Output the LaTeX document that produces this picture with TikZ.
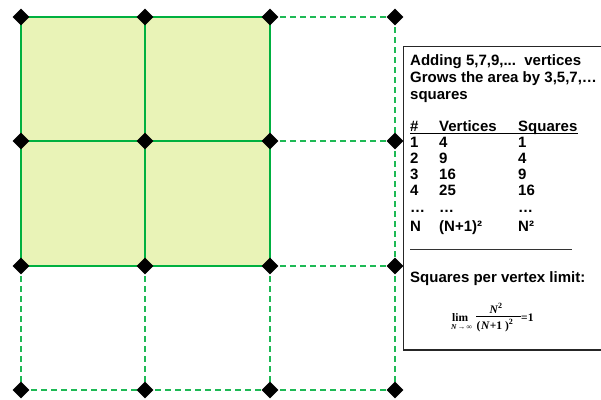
\documentclass[tikz,border=0pt]{standalone}
\usepackage{fontspec}
\setmainfont{Liberation Sans}
\newfontfamily\lser{Liberation Serif}
\usetikzlibrary{shapes.geometric}
\definecolor{gsolid}{RGB}{0,176,64}
\definecolor{gfill}{RGB}{233,243,183}
\definecolor{gdash}{RGB}{30,185,85}
\newcommand{\supii}{\raisebox{4.6pt}{\fontsize{8}{9}\selectfont 2}}
\tikzset{
  vtx/.style={diamond,fill=black,inner sep=0pt,minimum width=17pt,minimum height=17pt},
  solidedge/.style={draw=gsolid,line width=2.9pt},
  dashedge/.style={draw=gdash,line width=1.4pt,dash pattern=on 6pt off 4pt},
  txt/.style={anchor=base west,inner sep=0pt,font=\bfseries\fontsize{15}{17}\selectfont},
  ftxt/.style={anchor=base west,inner sep=0pt,font=\lser\bfseries\fontsize{11.5}{12}\selectfont},
  fsub/.style={anchor=base west,inner sep=0pt,font=\lser\bfseries\fontsize{7.5}{8}\selectfont},
}
\begin{document}
\begin{tikzpicture}[x=1pt,y=-1pt]
\useasboundingbox (0,0) rectangle (601,399);
% vertex positions
\foreach \i/\x in {0/21,1/145,2/270,3/395}
  \foreach \j/\y in {0/17,1/141,2/266,3/390}
    \coordinate (c\i\j) at (\x,\y);
% filled area
\fill[gfill] (c00) rectangle (c22);
% dashed grid
\foreach \a/\b in {20/30,21/31,22/32,23/33,03/13,13/23,02/03,12/13,22/23,30/31,31/32,32/33}
  \draw[dashedge] (c\a) -- (c\b);
% solid grid
\foreach \a/\b in {00/10,10/20,01/11,11/21,02/12,12/22,00/01,01/02,10/11,11/12,20/21,21/22}
  \draw[solidedge] (c\a) -- (c\b);
% vertices
\foreach \i in {0,1,2,3}
  \foreach \j in {0,1,2,3}
    \node[vtx] (v\i\j) at (c\i\j) {};
% info box
\draw[draw=black!85,line width=1.1pt] (403.5,46.5) rectangle (640,350);
\node[txt] (t1) at (410,65) {Adding 5,7,9,...\ \ vertices};
\node[txt] (t2) at (410,82) {Grows the area by 3,5,7,…};
\node[txt] (t3) at (410,99) {squares};
% table
\node[txt] (h1) at (410,131) {\#};
\node[txt] (h2) at (439,131) {Vertices};
\node[txt] (h3) at (518,131) {Squares};
\draw[line width=1.2pt] ([yshift=-2.2pt]h1.base west) -- ([yshift=-2.2pt]h3.base east);
\node[txt] (r1a) at (410,147) {1};
\node[txt] (r1b) at (439,147) {4};
\node[txt] (r1c) at (518,147) {1};
\node[txt] (r2a) at (410,163) {2};
\node[txt] (r2b) at (439,163) {9};
\node[txt] (r2c) at (518,163) {4};
\node[txt] (r3a) at (410,179) {3};
\node[txt] (r3b) at (439,179) {16};
\node[txt] (r3c) at (518,179) {9};
\node[txt] (r4a) at (410,195) {4};
\node[txt] (r4b) at (439,195) {25};
\node[txt] (r4c) at (518,195) {16};
\node[txt] (r5a) at (410,212) {…};
\node[txt] (r5b) at (439,212) {…};
\node[txt] (r5c) at (518,212) {…};
\node[txt] (r6a) at (410,231) {N};
\node[txt] (r6b) at (439,231) {(N+1)²};
\node[txt] (r6c) at (518,231) {N²};
\draw[black!80,line width=1pt] (410,249) coordinate (s1) -- (572,249) coordinate (s2);
\node[txt] (t4) at (410,282) {Squares per vertex limit:};
% limit formula
\node[ftxt] (flim) at (452,321) {lim};
\node[fsub] (fsub) at (451,329.5) {\itshape N\upshape\,→\,∞};
\node[ftxt] (fnum) at (489.5,313.3) {\itshape N\upshape\supii};
\coordinate (fb1) at (476,316.5);
\coordinate (fb2) at (521,316.5);
\draw[line width=0.8pt] (fb1) -- (fb2);
\node[ftxt] (fden) at (476.5,329) {(\kern0.5pt\itshape N\upshape\kern0.5pt+1\kern3pt)\supii};
\node[ftxt] (feq) at (521,321) {=1};
\end{tikzpicture}
\end{document}
